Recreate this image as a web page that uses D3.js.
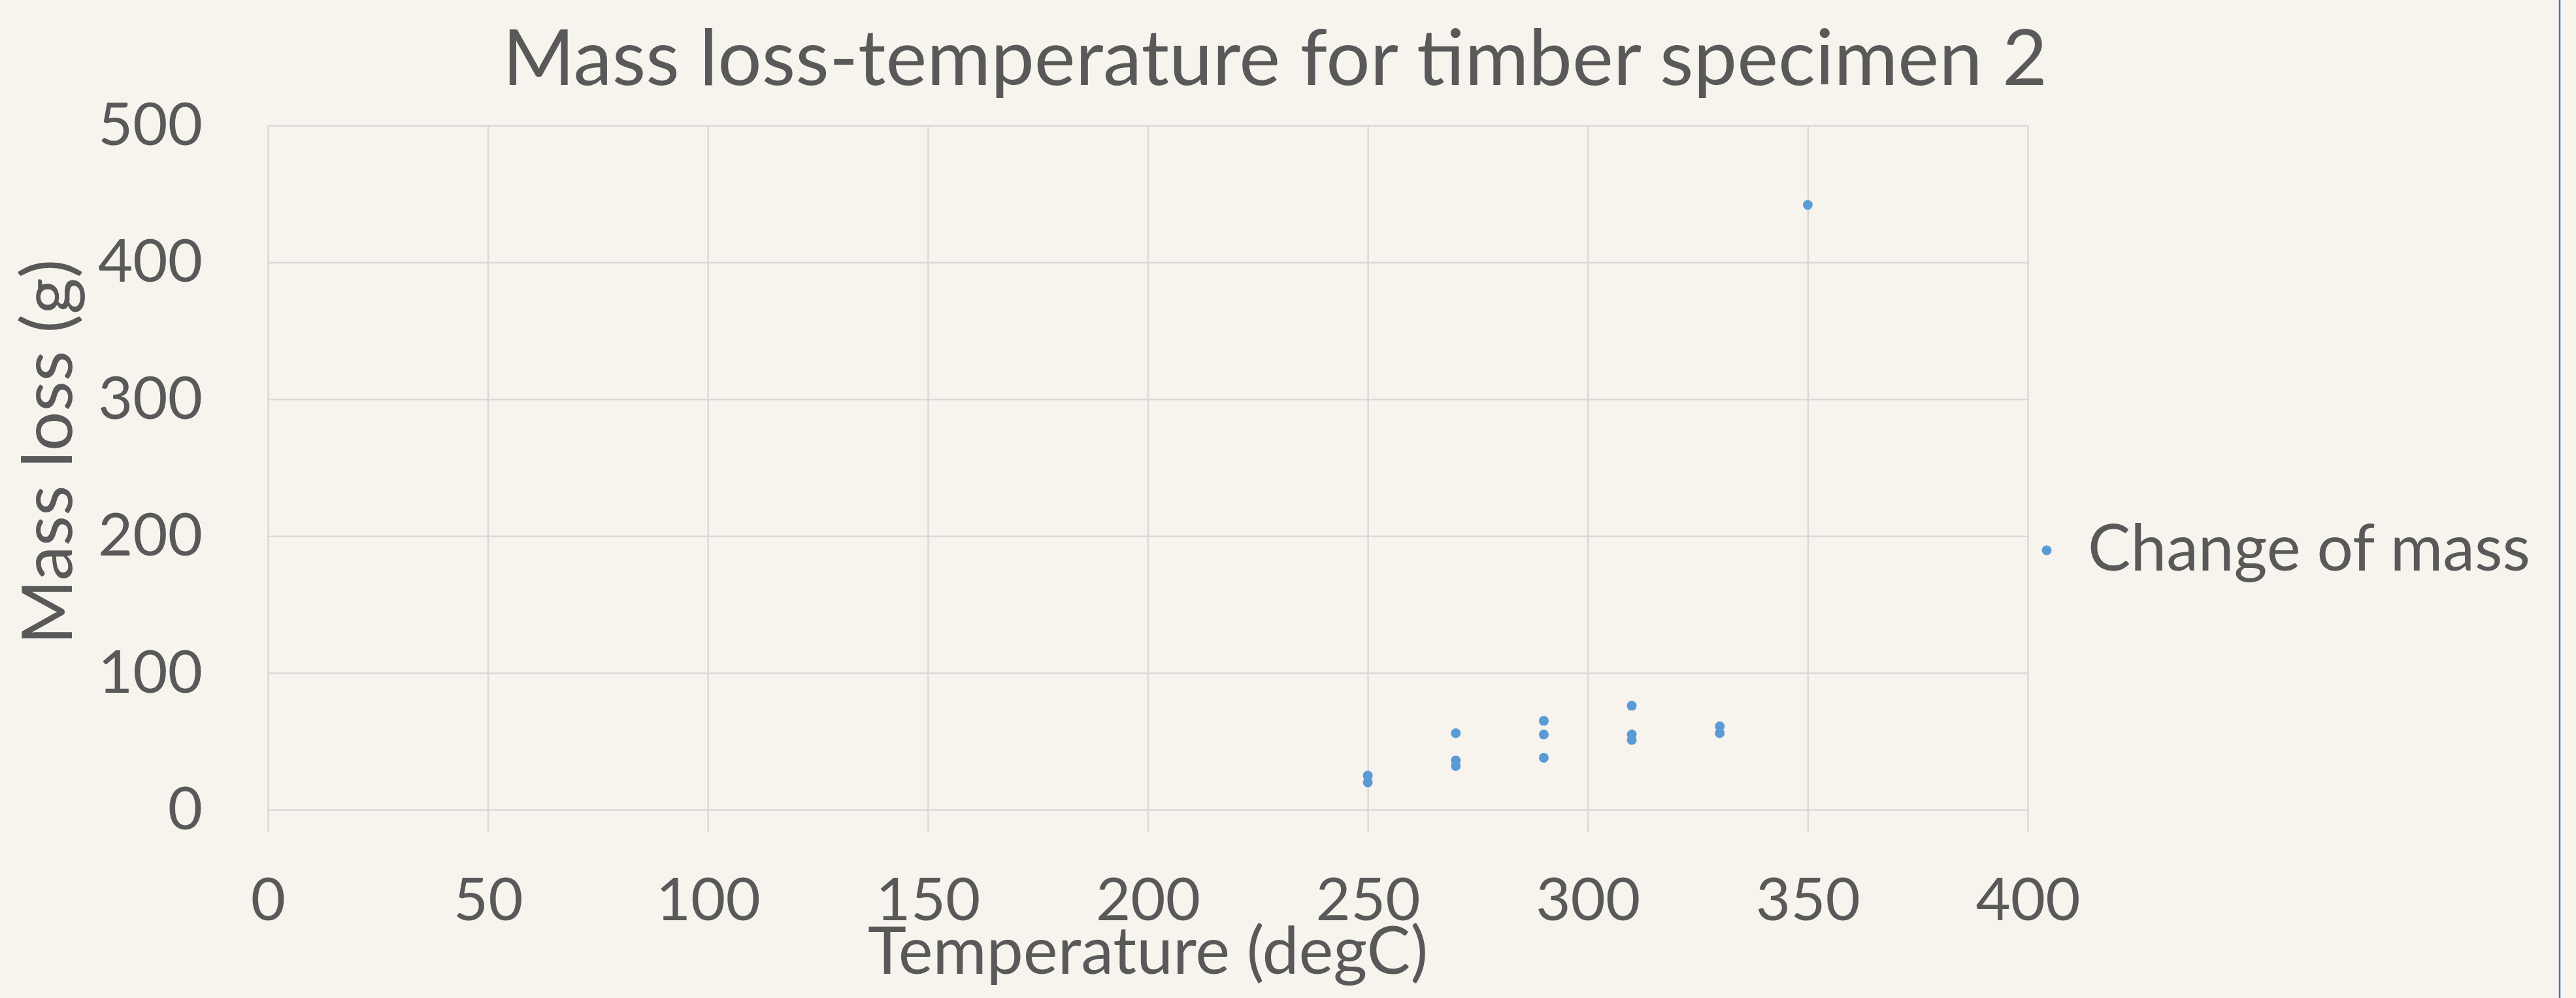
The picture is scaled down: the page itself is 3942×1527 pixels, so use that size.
<!DOCTYPE html>
<html>
<head>
<meta charset="utf-8">
<script src="https://cdn.jsdelivr.net/npm/d3@7"></script>
<style>
  body { margin: 0; background: #f7f4ee; }
  svg { display: block; }
  text { font-family: Lato, "Open Sans", sans-serif; fill: #595959; }
</style>
</head>
<body>
<svg id="chart"></svg>
<script>
// data
const temperatures = [250, 250, 270, 270, 270, 290, 290, 290, 310, 310, 310, 330, 330, 350];
const massLoss     = [25, 20, 56, 36, 32, 65, 55, 38, 76, 55, 51, 61, 56, 442];
const xTicks = [0, 50, 100, 150, 200, 250, 300, 350, 400];
const yTicks = [0, 100, 200, 300, 400, 500];
const seriesName = "Change of mass";

const width = 3942;
const height = 1527;
const plot = { left: 410, right: 3103, top: 192, bottom: 1239 };

const svg = d3.select("#chart")
  .attr("width", width)
  .attr("height", height);

svg.append("rect")
  .attr("width", width)
  .attr("height", height)
  .attr("fill", "#f7f4ee");

const x = d3.scaleLinear().domain([0, 400]).range([plot.left, plot.right]);
const y = d3.scaleLinear().domain([0, 500]).range([plot.bottom, plot.top]);

// vertical gridlines (run a bit below the plot like tick marks)
const xAxis = d3.axisBottom(x)
  .tickValues(xTicks)
  .tickSize(-(plot.bottom - plot.top) - 34)
  .tickPadding(70);

const gx = svg.append("g")
  .attr("transform", `translate(0,${plot.bottom + 34})`)
  .call(xAxis);
gx.select(".domain").remove();
gx.selectAll("line").attr("stroke", "#d9d9d9").attr("stroke-width", 2.5);
gx.selectAll("text")
  .style("font-size", "92px")
  .attr("fill", "#595959");

const yAxis = d3.axisLeft(y)
  .tickValues(yTicks)
  .tickSize(-(plot.right - plot.left))
  .tickPadding(100);

const gy = svg.append("g")
  .attr("transform", `translate(${plot.left},0)`)
  .call(yAxis);
gy.select(".domain").remove();
gy.selectAll("line").attr("stroke", "#d9d9d9").attr("stroke-width", 2.5);
gy.selectAll("text")
  .style("font-size", "92px")
  .attr("fill", "#595959");

// points
const points = temperatures.map((t, i) => ({ t, m: massLoss[i] }));
svg.append("g")
  .selectAll("circle")
  .data(points)
  .join("circle")
  .attr("cx", d => x(d.t))
  .attr("cy", d => y(d.m))
  .attr("r", 7.5)
  .attr("fill", "#5b9bd5");

// titles
svg.append("text")
  .attr("x", 1951)
  .attr("y", 130)
  .attr("text-anchor", "middle")
  .style("font-size", "119px")
  .text("Mass loss-temperature for timber specimen 2");

svg.append("text")
  .attr("x", (plot.left + plot.right) / 2)
  .attr("y", 1490)
  .attr("text-anchor", "middle")
  .style("font-size", "100px")
  .text("Temperature (degC)");

svg.append("text")
  .attr("transform", `translate(110,${(plot.top + plot.bottom) / 2 - 24}) rotate(-90)`)
  .attr("text-anchor", "middle")
  .style("font-size", "107px")
  .text("Mass loss (g)");

// legend
const legend = svg.append("g").attr("transform", "translate(3132,842)");
legend.append("circle").attr("r", 7.5).attr("fill", "#5b9bd5");
legend.append("text")
  .attr("x", 63)
  .attr("y", 31)
  .style("font-size", "98px")
  .text(seriesName);

// blue frame edge on the right
svg.append("line")
  .attr("x1", 3917).attr("x2", 3917)
  .attr("y1", 0).attr("y2", height)
  .attr("stroke", "#4472c4")
  .attr("stroke-width", 2.5);
</script>
</body>
</html>
